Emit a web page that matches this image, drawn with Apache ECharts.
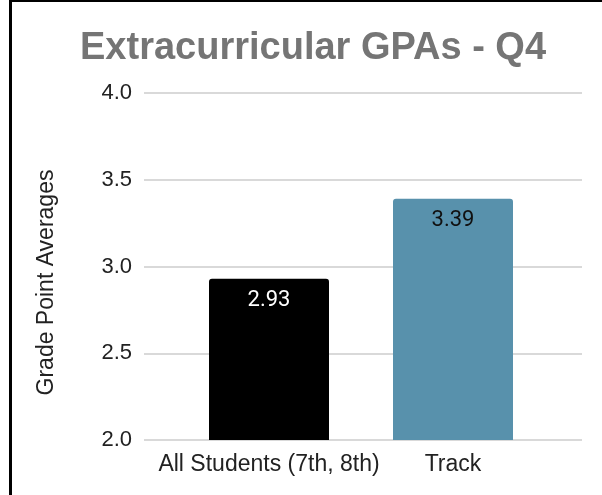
<!DOCTYPE html>
<html>
<head>
<meta charset="utf-8">
<script src="https://cdn.jsdelivr.net/npm/echarts@6/dist/echarts.min.js"></script>
<style>
html,body{margin:0;padding:0;background:#fff;}
#c{width:602px;height:495px;position:relative;}
#frame{position:absolute;left:9px;top:0;width:593px;height:495px;border-left:3px solid #000;border-top:2px solid #000;box-sizing:border-box;pointer-events:none;}
</style>
</head>
<body>
<div style="position:relative;width:602px;height:495px;">
<div id="c"></div>
<div id="frame"></div>
</div>
<script>
var categories = ["All Students (7th, 8th)", "Track"];
var gpaValues = [2.93, 3.39];
var barColors = ["#000000", "#5891ac"];
var labelColors = ["#ffffff", "#111111"];
var yTicks = [2.0, 2.5, 3.0, 3.5, 4.0];
var titleText = "Extracurricular GPAs - Q4";
var yAxisTitle = "Grade Point Averages";

var chart = echarts.init(document.getElementById('c'), null, {renderer: 'canvas'});
var font = "'Liberation Sans', Arial, sans-serif";
var yMin = yTicks[0], yMax = yTicks[yTicks.length - 1], yStep = yTicks[1] - yTicks[0];

chart.setOption({
  animation: false,
  backgroundColor: '#fff',
  title: {
    text: titleText,
    left: 75,
    top: 25,
    textStyle: {fontFamily: font, fontSize: 38, fontWeight: 'bold', color: '#757575'}
  },
  grid: [
    {left: 144, right: 20, top: 93, bottom: 55},
    {left: 177, right: 57, top: 93, bottom: 55}
  ],
  xAxis: [
    {gridIndex: 0, type: 'category', data: categories, show: false},
    {
      gridIndex: 1, type: 'category', data: categories,
      axisLine: {show: false}, axisTick: {show: false},
      axisLabel: {fontFamily: font, fontSize: 23, color: '#222', margin: 13, interval: 0}
    }
  ],
  yAxis: [
    {
      gridIndex: 0, type: 'value', min: yMin, max: yMax, interval: yStep,
      name: yAxisTitle, nameLocation: 'middle', nameGap: 86, nameRotate: 90,
      nameTextStyle: {fontFamily: font, fontSize: 23, color: '#222', padding: [0, 32, 0, 0]},
      axisLine: {show: false}, axisTick: {show: false},
      axisLabel: {fontFamily: font, fontSize: 22, color: '#222', margin: 12,
        formatter: function (v) { return v.toFixed(1); }},
      splitLine: {lineStyle: {color: '#cccccc', width: 1.5}}
    },
    {
      gridIndex: 1, type: 'value', min: yMin, max: yMax, interval: yStep,
      show: false, splitLine: {show: false}
    }
  ],
  series: [{
    type: 'bar',
    xAxisIndex: 1, yAxisIndex: 1,
    barWidth: 120,
    data: gpaValues.map(function (v, i) {
      return {
        value: v,
        itemStyle: {color: barColors[i], borderRadius: [3, 3, 0, 0]},
        label: {color: labelColors[i]}
      };
    }),
    label: {
      show: true, position: 'insideTop', distance: 11,
      fontFamily: "Roboto, 'Liberation Sans', sans-serif", fontSize: 22,
      formatter: function (p) { return p.value.toFixed(2); }
    }
  }]
});
</script>
</body>
</html>
